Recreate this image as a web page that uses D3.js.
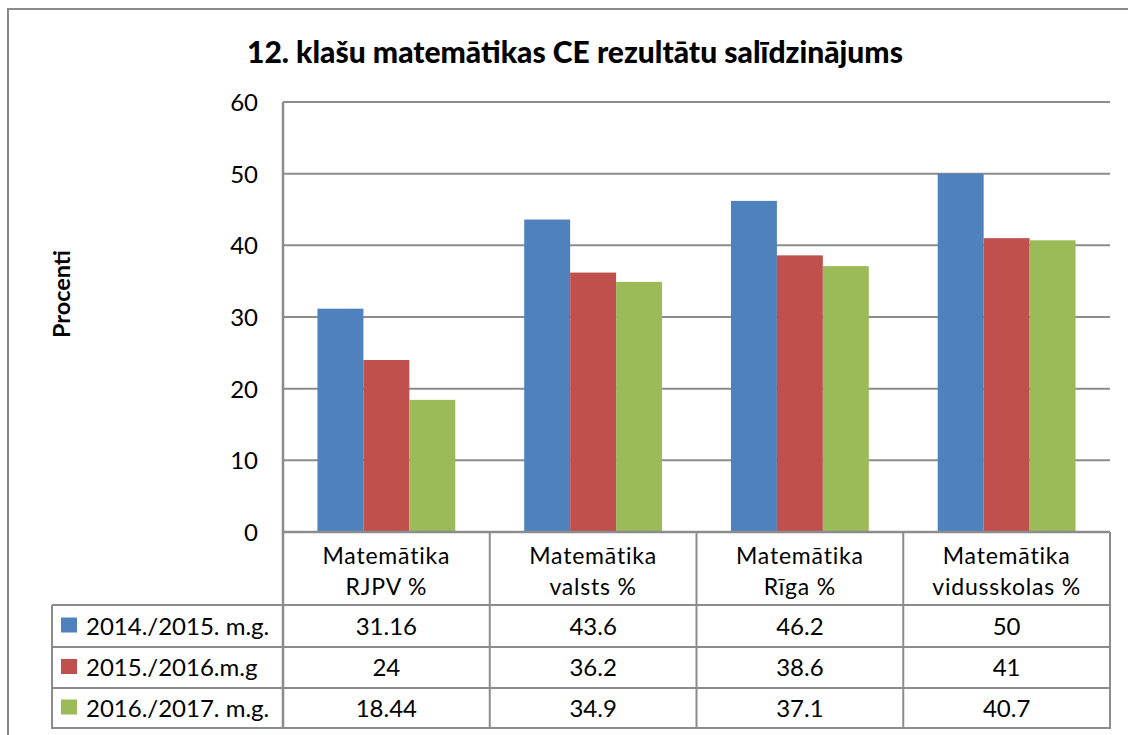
<!DOCTYPE html>
<html><head><meta charset="utf-8">
<script src="https://cdn.jsdelivr.net/npm/d3@7"></script>
<style>
html,body{margin:0;padding:0;background:#fff;}
svg{display:block;font-family:Lato,"Open Sans",sans-serif;}
</style></head>
<body>
<svg id="c" width="1128" height="735"></svg>
<script>
const title = "12. klašu matemātikas CE rezultātu salīdzinājums";
const yLabel = "Procenti";
const categories = [["Matemātika","RJPV %"],["Matemātika","valsts %"],["Matemātika","Rīga %"],["Matemātika","vidusskolas %"]];
const seriesNames = ["2014./2015. m.g.","2015./2016.m.g","2016./2017. m.g."];
const s2014 = [31.16, 43.6, 46.2, 50];
const s2015 = [24, 36.2, 38.6, 41];
const s2016 = [18.44, 34.9, 37.1, 40.7];
const seriesLabels = [["31.16","43.6","46.2","50"],["24","36.2","38.6","41"],["18.44","34.9","37.1","40.7"]];
const yTicks = [0,10,20,30,40,50,60];
const colors = ["#4F81BD","#C0504D","#9BBB59"];

const series = [s2014, s2015, s2016];
const svg = d3.select("#c");
const L = 283, R = 1110, T = 102, B = 532;
const tableLeft = 52;
const rowLines = [605, 647, 688, 728];
const gridColor = "#8c8c8c";

// outer frame
svg.append("rect").attr("x",8).attr("y",9).attr("width",1140).attr("height",740)
  .attr("fill","none").attr("stroke","#8a8a8a").attr("stroke-width",2);

function fit(sel, w){ const n=sel.node(); const cur=n.getComputedTextLength(); const fs=parseFloat(sel.attr("font-size")); sel.attr("font-size", fs*w/cur); }

// title
const t = svg.append("text").attr("x",575).attr("y",63).attr("text-anchor","middle")
  .attr("font-weight","900").attr("font-size",26).attr("fill","#000").text(title);
fit(t, 656);

const x = d3.scaleBand().domain(d3.range(categories.length)).range([L,R]).paddingInner(0).paddingOuter(0);
const y = d3.scaleLinear().domain([0,60]).range([B,T]);
const xs = d3.scaleBand().domain(d3.range(series.length)).range([0,x.bandwidth()]).paddingInner(0).paddingOuter(0.75);

// gridlines
svg.append("g").selectAll("line").data(yTicks.filter(v=>v>0)).join("line")
  .attr("x1",L).attr("x2",R).attr("y1",d=>y(d)).attr("y2",d=>y(d))
  .attr("stroke",gridColor).attr("stroke-width",2);

// y axis tick labels
const yAxis = d3.axisLeft(y).tickValues(yTicks).tickSize(0).tickPadding(25);
const ga = svg.append("g").attr("transform",`translate(${L},0)`).call(yAxis);
ga.select(".domain").remove();
ga.selectAll("text").attr("font-size",24).attr("font-family","Lato, sans-serif").attr("fill","#000").attr("dy","0.35em");

// y label
const yl = svg.append("text").attr("transform","translate(70,294) rotate(-90)").attr("text-anchor","middle")
  .attr("font-weight","bold").attr("font-size",20).text(yLabel);
fit(yl, 88);

// bars
series.forEach((s,si)=>{
  svg.append("g").selectAll("rect").data(s).join("rect")
    .attr("x",(d,i)=>x(i)+xs(si)).attr("width",xs.bandwidth())
    .attr("y",d=>y(d)).attr("height",d=>y(0)-y(d)).attr("fill",colors[si]);
});

// axis lines
svg.append("line").attr("x1",L).attr("x2",L).attr("y1",T).attr("y2",rowLines[3]+1).attr("stroke",gridColor).attr("stroke-width",2.5);
svg.append("line").attr("x1",L).attr("x2",R).attr("y1",B).attr("y2",B).attr("stroke",gridColor).attr("stroke-width",2.5);

// table grid
const tg = svg.append("g");
rowLines.forEach(yy=>tg.append("line").attr("x1",tableLeft).attr("x2",R).attr("y1",yy).attr("y2",yy).attr("stroke",gridColor).attr("stroke-width",2));
tg.append("line").attr("x1",tableLeft).attr("x2",tableLeft).attr("y1",rowLines[0]).attr("y2",rowLines[3]+1).attr("stroke",gridColor).attr("stroke-width",2);
d3.range(1,categories.length+1).forEach(i=>{
  const xx = i<categories.length ? x(i) : R;
  tg.append("line").attr("x1",xx).attr("x2",xx).attr("y1",B).attr("y2",rowLines[3]+1).attr("stroke",gridColor).attr("stroke-width",2);
});

// category labels
categories.forEach((c,i)=>{
  const cx = x(i)+x.bandwidth()/2;
  c.forEach((line,li)=>{
    svg.append("text").attr("x",cx).attr("y",564+li*31).attr("text-anchor","middle")
      .attr("font-size",23).attr("letter-spacing","0.8px").attr("fill","#000").text(line);
  });
});

// table rows
series.forEach((s,si)=>{
  const cy = (rowLines[si]+rowLines[si+1])/2;
  svg.append("rect").attr("x",61).attr("y",cy-8.5).attr("width",16).attr("height",15).attr("fill",colors[si]);
  svg.append("text").attr("x",86).attr("y",cy).attr("dy","0.36em").attr("font-size",24).attr("fill","#000").text(seriesNames[si]);
  s.forEach((v,i)=>{
    svg.append("text").attr("x",x(i)+x.bandwidth()/2).attr("y",cy).attr("dy","0.36em").attr("text-anchor","middle")
      .attr("font-size",24).attr("fill","#000").text(seriesLabels[si][i]);
  });
});
</script>
</body></html>
